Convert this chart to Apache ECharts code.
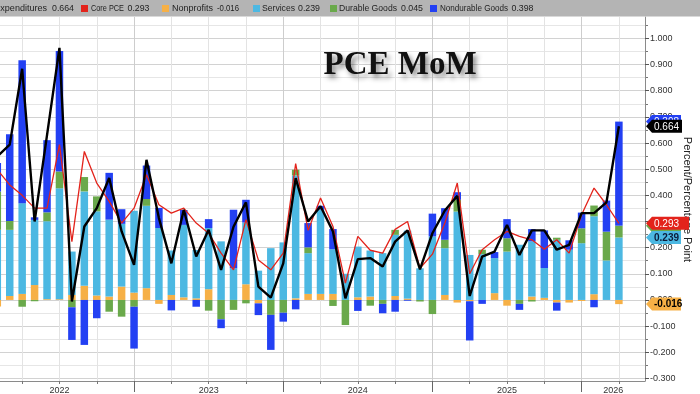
<!DOCTYPE html>
<html><head><meta charset="utf-8">
<script src="https://cdn.jsdelivr.net/npm/echarts@6/dist/echarts.min.js"></script>
<style>html,body{margin:0;padding:0;background:#fff}#c{width:700px;height:394px}</style>
</head><body><div id="c"></div>
<script>
// Monthly contributions (percentage points); index 0 = Feb 2022 (partially visible), index 50 = Apr 2026
const nonprofits = [-0.025,0.015,0.023,0.057,0.003,0.003,0.019,0.054,0.017,0.013,0.051,0.028,0.045,-0.015,0.019,0.010,0.006,0.041,0.000,0.000,0.060,-0.013,0.000,0.000,0.006,0.023,0.023,0.023,0.000,0.010,0.013,0.000,0.015,0.005,0.000,0.000,0.019,-0.010,-0.005,0.000,0.026,-0.022,0.000,0.013,0.008,-0.010,-0.010,-0.004,0.022,0.000,-0.016];
const services = [0.268,0.253,0.347,0.249,0.298,0.424,0.166,0.361,0.322,0.294,0.240,0.313,0.315,0.275,0.170,0.277,0.185,0.234,0.224,0.121,0.236,0.112,0.198,0.220,0.470,0.156,0.322,0.171,0.100,0.194,0.176,0.179,0.234,0.260,0.121,0.243,0.179,0.338,0.172,0.175,0.134,0.185,0.211,0.211,0.114,0.230,0.192,0.217,0.298,0.151,0.239];
const durable = [0.147,0.034,-0.026,-0.005,0.034,0.064,-0.028,0.055,0.057,-0.045,-0.064,-0.026,0.026,0.000,0.000,0.000,0.000,-0.041,-0.074,-0.038,-0.013,0.000,-0.057,-0.049,0.022,0.022,0.000,-0.023,-0.096,0.000,-0.022,-0.015,0.019,0.000,-0.006,-0.054,0.032,0.045,0.000,0.017,0.000,0.051,-0.015,-0.006,0.000,0.008,0.000,0.057,0.041,0.110,0.045];
const nondurable = [0.109,0.332,0.547,0.010,0.276,0.461,-0.125,-0.172,-0.070,0.179,0.056,-0.160,0.128,0.077,-0.040,0.057,-0.026,0.034,-0.034,0.224,0.087,-0.045,-0.134,-0.034,-0.036,0.093,0.015,0.077,0.000,-0.042,0.000,-0.036,-0.045,-0.003,0.000,0.087,0.121,0.029,-0.150,-0.015,0.023,0.073,-0.023,0.047,0.144,-0.031,0.036,0.060,-0.028,0.119,0.398];
const totalPCE = [0.549,0.594,0.884,0.300,0.630,0.964,-0.006,0.281,0.351,0.466,0.262,0.134,0.536,0.313,0.140,0.345,0.166,0.268,0.115,0.280,0.373,0.051,0.009,0.140,0.466,0.300,0.358,0.262,0.006,0.156,0.160,0.128,0.223,0.266,0.117,0.255,0.342,0.398,0.015,0.166,0.185,0.287,0.172,0.266,0.266,0.192,0.211,0.332,0.332,0.373,0.664];
const corePCE = [0.498,0.440,0.400,0.351,0.351,0.594,0.223,0.568,0.447,0.377,0.294,0.351,0.479,0.364,0.332,0.351,0.294,0.255,0.179,0.115,0.307,0.153,0.115,0.179,0.521,0.266,0.390,0.281,0.064,0.243,0.190,0.179,0.270,0.300,0.121,0.175,0.294,0.447,0.100,0.192,0.230,0.262,0.243,0.230,0.194,0.230,0.179,0.326,0.428,0.364,0.293];
const yearLabels = ['2022','2023','2024','2025','2026'];
const seriesNames = ['Personal Consumption Expenditures','Core PCE','Nonprofits','Services','Durable Goods','Nondurable Goods'];

const C = {total:'#000000', core:'#e3231b', np:'#f6b046', sv:'#4cb8e2', du:'#6aa94b', nd:'#2340f3'};
const XMIN = 0.217, XMAX = 52.1, YMIN = -0.31, YMAX = 1.082;
const firstYearStart = -1; // month index of Jan 2022

const pairs = arr => arr.map((v, i) => [i, v]);
// bars: value column first so the stack runs on the y values (x is a plain month index)
const barRows = arr => arr.map((v, i) => [v, i]);

const quarterTicks = [], yearTicks = [], labelPos = [];
for (let i = firstYearStart + 3; i <= XMAX; i += 3) if (i >= XMIN) quarterTicks.push(i);
yearLabels.forEach((_, k) => {
  const s = firstYearStart + 12 * k, e = Math.min(s + 12, XMAX);
  if (s > XMIN) yearTicks.push(s);
  labelPos.push((s + e) / 2);
});
const majorY = [], minorY = [];
for (let k = -3; k <= 10; k++) majorY.push(k / 10);
for (let k = -6; k <= 21; k++) minorY.push(k / 20);

const chart = echarts.init(document.getElementById('c'), null, {renderer: 'canvas'});
const barCommon = {type: 'bar', stack: 'pce', stackStrategy: 'samesign', barWidth: 7.5, xAxisIndex: 0, yAxisIndex: 0,
  silent: true, encode: {x: 1, y: 0}};
const font = 'Liberation Sans';

chart.setOption({
  animation: false,
  backgroundColor: '#ffffff',
  grid: {left: 0, right: 55, top: 17, bottom: 13, containLabel: false, outerBoundsMode: 'none'},
  xAxis: [{
    type: 'value', min: XMIN, max: XMAX, position: 'bottom',
    axisLine: {onZero: false, lineStyle: {color: '#8a8a8a', width: 1}},
    axisTick: {customValues: quarterTicks, length: 3, lineStyle: {color: '#777'}},
    axisLabel: {customValues: labelPos, margin: 5, color: '#333', fontSize: 9, fontFamily: font,
      formatter: v => { const j = labelPos.findIndex(p => Math.abs(p - v) < 0.01); return j >= 0 ? yearLabels[j] : ''; }},
    splitLine: {show: true, lineStyle: {color: '#e3e3e3', width: 1}}
  }, {
    type: 'value', min: XMIN, max: XMAX, position: 'bottom',
    axisLine: {show: false, onZero: false},
    axisTick: {customValues: yearTicks, length: 11, lineStyle: {color: '#666'}},
    axisLabel: {show: false},
    splitLine: {show: true, lineStyle: {color: '#cdcdcd', width: 1}}
  }],
  yAxis: [{
    type: 'value', min: YMIN, max: YMAX, position: 'right',
    axisLine: {show: true, onZero: false, lineStyle: {color: '#8a8a8a', width: 1}},
    axisTick: {customValues: majorY, length: 4, lineStyle: {color: '#555'}},
    axisLabel: {customValues: majorY, margin: 5, color: '#333', fontSize: 9, fontFamily: font,
      formatter: v => Number(v).toFixed(3)},
    splitLine: {show: true, lineStyle: {color: '#d2d2d2', width: 1}}
  }, {
    type: 'value', min: YMIN, max: YMAX, position: 'right', z: -1,
    axisLine: {show: false, onZero: false},
    axisTick: {customValues: minorY, length: 3, lineStyle: {color: '#777'}},
    axisLabel: {show: false},
    splitLine: {show: true, lineStyle: {color: '#e6e6e6', width: 1}}
  }],
  series: [
    Object.assign({name: seriesNames[2], data: barRows(nonprofits), itemStyle: {color: C.np}}, barCommon),
    Object.assign({name: seriesNames[3], data: barRows(services), itemStyle: {color: C.sv}}, barCommon),
    Object.assign({name: seriesNames[4], data: barRows(durable), itemStyle: {color: C.du}}, barCommon),
    Object.assign({name: seriesNames[5], data: barRows(nondurable), itemStyle: {color: C.nd}}, barCommon),
    {name: seriesNames[1], type: 'line', data: pairs(corePCE), showSymbol: false, symbol: 'none', z: 3,
      lineStyle: {color: C.core, width: 1.3}, silent: true},
    {name: seriesNames[0], type: 'line', data: pairs(totalPCE), showSymbol: false, symbol: 'none', z: 4,
      lineStyle: {color: C.total, width: 2.4}, silent: true}
  ]
});

// ---- graphics: legend strip, title, axis name, value tags ----
const last = a => a[a.length - 1];
const mctx = document.createElement('canvas').getContext('2d');
const LFONT = '9.5px "' + font + '"';
mctx.font = LFONT;
const fitScale = (txt, avail) => Math.min(0.95, avail / mctx.measureText(txt).width);
const g = [];
g.push({type: 'rect', shape: {x: 0, y: 0, width: 700, height: 16.5}, style: {fill: '#b4b4b4'}, z: 100});
const legendItems = [
  {name: seriesNames[0], val: last(totalPCE), color: null, sq: 0, nx: 47, vx: 52, w: 999},
  {name: seriesNames[1], val: last(corePCE), color: C.core, sq: 81, nx: 91, vx: 127.5, w: 33},
  {name: seriesNames[2], val: last(nonprofits), color: C.np, sq: 162, nx: 172, vx: 217, w: 42},
  {name: seriesNames[3], val: last(services), color: C.sv, sq: 253, nx: 262, vx: 298, w: 33},
  {name: seriesNames[4], val: last(durable), color: C.du, sq: 330, nx: 339, vx: 401, w: 58},
  {name: seriesNames[5], val: last(nondurable), color: C.nd, sq: 430, nx: 440, vx: 511.5, w: 68}
];
legendItems.forEach(it => {
  const sc = fitScale(it.name, it.w);
  const vs = fitScale(it.val.toFixed(3), 22);
  if (it.color) g.push({type: 'rect', shape: {x: it.sq, y: 5, width: 7, height: 7}, style: {fill: it.color}, z: 101});
  g.push({type: 'text', x: it.nx, y: 8.5, scaleX: sc, style: {text: it.name, fill: '#1f1f1f', font: LFONT,
    textAlign: it.color ? 'left' : 'right', textVerticalAlign: 'middle'}, z: 101});
  g.push({type: 'text', x: it.vx, y: 8.5, scaleX: vs, style: {text: it.val.toFixed(3), fill: '#1f1f1f', font: LFONT,
    textAlign: 'left', textVerticalAlign: 'middle'}, z: 101});
});
g.push({type: 'text', x: 400, y: 65, style: {text: 'PCE MoM', fill: '#111', font: 'bold 33px "Liberation Serif"',
  textAlign: 'center', textVerticalAlign: 'middle', textShadowColor: 'rgba(0,0,0,0.45)', textShadowBlur: 5,
  textShadowOffsetX: 3, textShadowOffsetY: 4}, z: 50});
g.push({type: 'text', x: 687, y: 199.5, rotation: -Math.PI / 2, style: {text: 'Percent/Percentage Point', fill: '#222',
  font: '11px "' + font + '"', textAlign: 'center', textVerticalAlign: 'middle'}, z: 50});

// tags on the right axis, placed at stack tops / line ends through the axis scale
const n = totalPCE.length - 1;
const comps = [nonprofits, services, durable, nondurable];
const tops = []; let pos = 0, neg = 0;
comps.forEach(a => { const v = a[n]; if (v >= 0) { pos += v; tops.push(pos); } else { neg += v; tops.push(neg); } });
const tags = [
  {v: tops[2], t: last(durable), fill: C.du, color: '#000', w: 35, bold: false},
  {v: tops[3], t: last(nondurable), fill: C.nd, color: '#fff', w: 35, bold: false},
  {v: tops[1], t: last(services), fill: C.sv, color: '#0b1b3a', w: 35, bold: true},
  {v: last(corePCE), t: last(corePCE), fill: C.core, color: '#fff', w: 43, bold: false},
  {v: last(totalPCE), t: last(totalPCE), fill: C.total, color: '#fff', w: 36, bold: false},
  {v: tops[0], t: last(nonprofits), fill: C.np, color: '#000', w: 35, bold: true}
];
const ax = 646;
tags.forEach((tg, k) => {
  const y = chart.convertToPixel({yAxisIndex: 0}, tg.v);
  g.push({type: 'polygon', shape: {points: [[ax, y], [ax + 6, y - 6.5], [ax + tg.w, y - 6.5], [ax + tg.w, y + 6.5], [ax + 6, y + 6.5]]},
    style: {fill: tg.fill}, z: 60 + k});
  g.push({type: 'text', x: ax + 8, y: y + 0.5, style: {text: tg.t.toFixed(3), fill: tg.color,
    font: (tg.bold ? 'bold ' : '') + '10px "' + font + '"', textAlign: 'left', textVerticalAlign: 'middle'}, z: 60 + k});
});
chart.setOption({graphic: {elements: g}});
</script>
</body></html>
